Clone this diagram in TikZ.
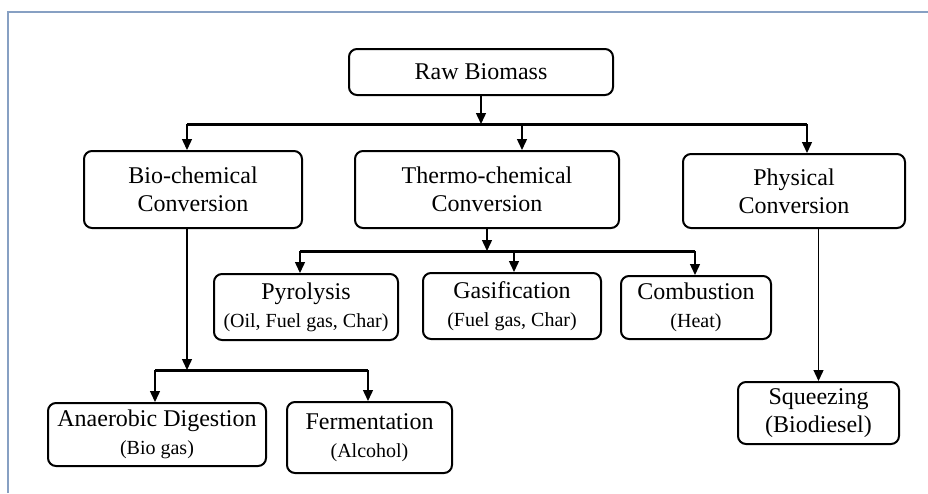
\documentclass[tikz,border=0pt]{standalone}
\usepackage{fontspec}
\setmainfont{Liberation Serif}
\usetikzlibrary{arrows.meta}
\definecolor{framecol}{RGB}{135,160,195}
\newcommand{\subtxt}[1]{{\fontsize{20}{24}\selectfont #1}}

\begin{document}
\begin{tikzpicture}[
		x=1pt, y=-1pt,
		every node/.style={draw, line width=2pt, rounded corners=8pt, align=center, inner sep=0pt, font=\fontsize{24}{28}\selectfont},
		link/.style={line width=1.4pt, -{Triangle[width=10pt,length=11pt]}},
		bus/.style={line width=3pt}
		]
		\useasboundingbox (0,0) rectangle (928,493);
		\draw[framecol, line width=1.4pt] (8,493) -- (8,12) -- (928,12);
		
		\node[minimum width=264pt, minimum height=46pt] (raw) at (481,72) {Raw Biomass};
		\node[minimum width=218pt, minimum height=77pt] (bio) at (193,189.5) {Bio-chemical\\Conversion};
		\node[minimum width=264pt, minimum height=77pt] (thermo) at (487,189.5) {Thermo-chemical\\Conversion};
		\node[minimum width=222pt, minimum height=74pt] (phys) at (794,191) {Physical\\Conversion};
		\node[minimum width=184pt, minimum height=66pt] (pyro) at (306,307) {Pyrolysis\\\subtxt{(Oil, Fuel gas, Char)}};
		\node[minimum width=178pt, minimum height=66pt] (gasi) at (512,306) {Gasification\\\subtxt{(Fuel gas, Char)}};
		\node[minimum width=150pt, minimum height=63pt] (comb) at (696,307.5) {Combustion\\\subtxt{(Heat)}};
		\node[minimum width=218pt, minimum height=63pt] (anae) at (157,434.5) {Anaerobic Digestion\\\subtxt{(Bio gas)}};
		\node[minimum width=165pt, minimum height=71pt] (ferm) at (369.5,437.5) {Fermentation\\\subtxt{(Alcohol)}};
		\node[minimum width=161pt, minimum height=62pt] (sque) at (818.5,413) {Squeezing\\(Biodiesel)};
		
		% bus points
		\coordinate (b1l) at (187,124);
		\coordinate (b1m) at (522,124);
		\coordinate (b1r) at (807,124);
		\coordinate (b2l) at (300,251);
		\coordinate (b2m) at (514,251);
		\coordinate (b2r) at (695,251);
		\coordinate (b3l) at (155,370);
		\coordinate (b3r) at (368,370);
		
		\draw[bus] (b1l) -- (b1r);
		\draw[bus] (b2l) -- (b2r);
		\draw[bus] (b3l) -- (b3r);
		
		\draw[link] (raw.south) -- (raw.south |- b1l);
		\draw[link] (b1l) -- (b1l |- bio.north);
		\draw[link] (b1m) -- (b1m |- thermo.north);
		\draw[link] (b1r) -- (b1r |- phys.north);
		
		\draw[link] (thermo.south) -- (thermo.south |- b2l);
		\draw[link] (b2l) -- (b2l |- pyro.north);
		\draw[link] (b2m) -- (b2m |- gasi.north);
		\draw[link] (b2r) -- (b2r |- comb.north);
		
		\draw[link] (b1l |- bio.south) -- (b1l |- b3l);
		\draw[link] (b3l) -- (b3l |- anae.north);
		\draw[link] (b3r) -- (b3r |- ferm.north);
		
		\draw[link] (sque.north |- phys.south) -- (sque.north);
	\end{tikzpicture}
\end{document}
